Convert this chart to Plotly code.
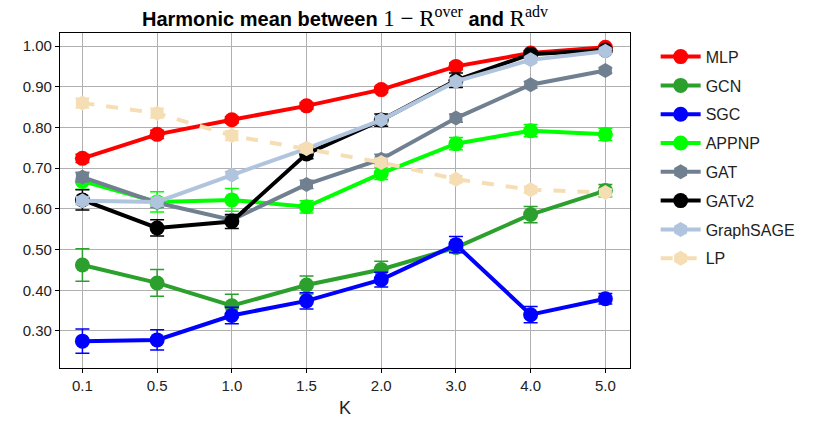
import plotly.graph_objects as go

k_labels = ["0.1", "0.5", "1.0", "1.5", "2.0", "3.0", "4.0", "5.0"]

mlp = [0.724, 0.783, 0.819, 0.853, 0.893, 0.950, 0.983, 0.997]
mlp_err = [0.010, 0.010, 0.008, 0.008, 0.008, 0.008, 0.006, 0.005]

gcn = [0.462, 0.418, 0.362, 0.413, 0.451, 0.505, 0.586, 0.645]
gcn_err = [0.040, 0.033, 0.028, 0.022, 0.020, 0.010, 0.020, 0.015]

sgc = [0.275, 0.278, 0.338, 0.374, 0.426, 0.512, 0.340, 0.379]
sgc_err = [0.030, 0.025, 0.020, 0.020, 0.018, 0.020, 0.020, 0.013]

appnp = [0.668, 0.617, 0.622, 0.605, 0.687, 0.760, 0.792, 0.783]
appnp_err = [0.020, 0.025, 0.028, 0.015, 0.015, 0.015, 0.015, 0.015]

gat = [0.678, 0.615, 0.573, 0.660, 0.722, 0.823, 0.905, 0.940]
gat_err = [0.012, 0.012, 0.010, 0.010, 0.012, 0.010, 0.008, 0.006]

gatv2 = [0.622, 0.553, 0.569, 0.735, 0.818, 0.916, 0.980, 0.990]
gatv2_err = [0.025, 0.020, 0.017, 0.012, 0.015, 0.018, 0.008, 0.005]

sage = [0.620, 0.617, 0.683, 0.748, 0.818, 0.913, 0.966, 0.987]
sage_err = [0.010, 0.010, 0.008, 0.008, 0.008, 0.008, 0.006, 0.005]

lp = [0.860, 0.835, 0.780, 0.748, 0.714, 0.673, 0.647, 0.640]
lp_err = [0.012, 0.012, 0.012, 0.010, 0.010, 0.008, 0.008, 0.008]

series = [
    ("MLP", mlp, mlp_err, "#ff0000", "circle", "solid"),
    ("GCN", gcn, gcn_err, "#2ca02c", "circle", "solid"),
    ("SGC", sgc, sgc_err, "#0000ff", "circle", "solid"),
    ("APPNP", appnp, appnp_err, "#00ff00", "circle", "solid"),
    ("GAT", gat, gat_err, "#708090", "hexagon", "solid"),
    ("GATv2", gatv2, gatv2_err, "#000000", "circle", "solid"),
    ("GraphSAGE", sage, sage_err, "#b0c4de", "hexagon", "solid"),
    ("LP", lp, lp_err, "#f5deb3", "hexagon", "dash"),
]

fig = go.Figure()
for name, vals, errs, color, symbol, dash in series:
    fig.add_trace(go.Scatter(
        x=k_labels, y=vals, name=name, mode="lines+markers",
        line=dict(color=color, width=4, dash=dash),
        marker=dict(color=color, size=15, symbol=symbol),
        error_y=dict(type="data", array=errs, visible=True,
                     color=color, thickness=1.5, width=7),
        legendgroup=name,
    ))

axis_common = dict(
    showline=True, linecolor="black", linewidth=1.2, mirror=True,
    showgrid=True, gridcolor="#b0b0b0", gridwidth=1,
    ticks="outside", ticklen=4, tickcolor="black",
    tickfont=dict(family="Liberation Sans, Arial", size=15, color="#222"),
    zeroline=False, automargin=False,
)

serif = "font-family:\"Liberation Serif\", serif;font-size:23px;font-weight:normal"
sup_style = "font-size:16px"
fig.update_layout(
    width=817, height=423,
    margin=dict(l=60, r=187, t=33, b=55),
    plot_bgcolor="white", paper_bgcolor="white",
    title=dict(
        text=f"<b>Harmonic mean between </b><span style='{serif}'>"
             f"1 − R<sup><span style='{sup_style}'>over</span></sup></span><b> and </b>"
             f"<span style='{serif}'>R<sup><span style='{sup_style}'>adv</span></sup></span>",
        x=0.5, xref="paper", xanchor="center",
        y=0.938, yref="container", yanchor="bottom",
        font=dict(family="Liberation Sans, Arial", size=20, color="black"),
    ),
    xaxis=dict(axis_common, type="category", range=[-0.3, 7.33],
               title=dict(text="K", font=dict(family="Liberation Sans, Arial", size=18, color="#222"),
                          standoff=8)),
    yaxis=dict(axis_common, range=[0.209, 1.032], dtick=0.1, tick0=0.0,
               tickformat=".2f"),
    legend=dict(
        x=1.045, xanchor="left", y=0.98, yanchor="top",
        font=dict(family="Liberation Sans, Arial", size=16, color="#222"),
        tracegroupgap=5, itemwidth=40, bgcolor="rgba(0,0,0,0)",
    ),
    showlegend=True,
)

fig.write_html("out.html")
